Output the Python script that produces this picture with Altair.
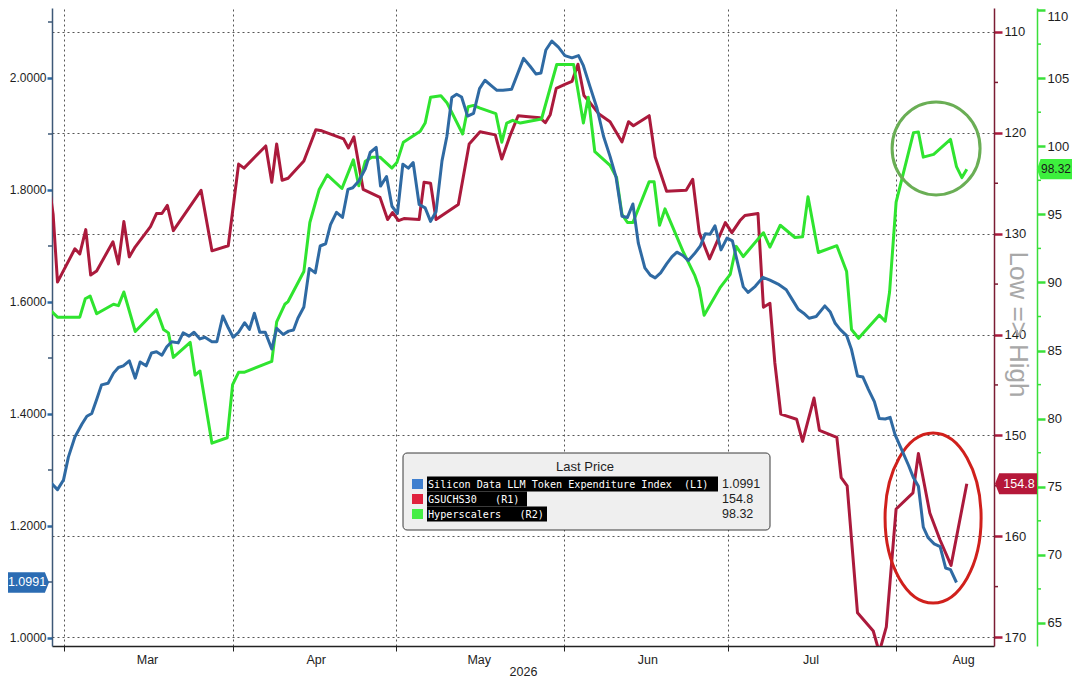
import altair as alt
import pandas as pd

# ---------------- data ----------------
# day offsets are counted from 2026-03-01
blue_day = [-2.6, -1.2, -0.1, 0.8, 2.0, 3.3, 4.2, 5.1, 6.0, 6.9,
            8.1, 9.1, 10.0, 10.9, 12.0, 13.1, 14.0, 15.1, 16.1, 17.0,
            18.0, 18.9, 19.8, 21.0, 21.9, 23.0, 23.9, 25.0, 25.9, 27.2,
            28.1, 29.2, 30.2, 31.1, 32.1, 33.2, 34.1, 35.0, 36.0, 37.0,
            38.2, 39.1, 40.3, 41.3, 42.2, 43.0, 44.1, 45.1, 46.2, 47.1,
            48.1, 49.0, 50.1, 51.2, 52.2, 53.1, 54.2, 55.4, 56.3, 57.4,
            58.2, 59.3, 60.3, 61.3, 62.3, 63.3, 64.2, 65.3, 66.4, 67.4,
            68.4, 69.5, 70.4, 71.3, 72.2, 73.1, 74.2, 75.3, 76.4, 77.4,
            78.5, 79.6, 80.7, 82.3, 84.5, 85.7, 86.8, 87.7, 88.6, 89.7,
            90.9, 92.1, 93.4, 94.6, 95.5, 96.7, 98.0, 99.2, 100.4, 101.5,
            102.6, 103.6, 104.6, 105.6, 106.8, 107.8, 108.7, 109.7, 110.8, 111.8,
            112.7, 113.8, 114.8, 115.9, 117.0, 117.9, 118.8, 119.7, 120.8, 121.9,
            122.9, 123.9, 124.9, 125.8, 127.1, 128.5, 129.8, 131.3, 132.8, 133.8,
            135.0, 136.0, 137.0, 138.3, 139.9, 140.9, 141.8, 142.7, 143.9, 144.8,
            145.9, 146.9, 147.9, 149.0, 149.9, 151.0, 151.9, 152.8, 154.0, 155.3,
            156.2, 157.1, 158.0, 158.9, 160.0, 161.1, 162.1, 163.0, 164.1]
blue_val = [1.279, 1.265, 1.282, 1.323, 1.359, 1.382, 1.396, 1.401, 1.426, 1.452,
            1.455, 1.473, 1.483, 1.486, 1.495, 1.464, 1.493, 1.486, 1.509, 1.511,
            1.505, 1.520, 1.529, 1.527, 1.545, 1.539, 1.546, 1.534, 1.537, 1.529,
            1.529, 1.575, 1.554, 1.537, 1.546, 1.563, 1.551, 1.580, 1.546, 1.546,
            1.516, 1.553, 1.542, 1.548, 1.550, 1.571, 1.591, 1.660, 1.652, 1.700,
            1.704, 1.738, 1.760, 1.751, 1.801, 1.804, 1.816, 1.838, 1.867, 1.876,
            1.807, 1.824, 1.771, 1.758, 1.846, 1.839, 1.849, 1.774, 1.768, 1.744,
            1.761, 1.852, 1.896, 1.965, 1.971, 1.966, 1.932, 1.937, 1.981, 1.996,
            1.987, 1.978, 1.978, 1.980, 2.035, 2.021, 2.007, 2.009, 2.050, 2.066,
            2.055, 2.040, 2.036, 2.040, 2.022, 1.985, 1.946, 1.896, 1.860, 1.823,
            1.753, 1.751, 1.775, 1.705, 1.661, 1.648, 1.643, 1.652, 1.668, 1.681,
            1.689, 1.683, 1.674, 1.686, 1.700, 1.722, 1.721, 1.736, 1.693, 1.714,
            1.709, 1.668, 1.627, 1.617, 1.628, 1.644, 1.639, 1.632, 1.622, 1.606,
            1.587, 1.580, 1.571, 1.574, 1.593, 1.582, 1.562, 1.551, 1.540, 1.515,
            1.468, 1.466, 1.444, 1.422, 1.392, 1.391, 1.394, 1.363, 1.337, 1.308,
            1.286, 1.271, 1.198, 1.179, 1.168, 1.163, 1.125, 1.122, 1.0991]

red_day = [-2.6, -2.0, -1.2, 2.0, 2.9, 4.0, 4.9, 6.0, 9.0, 10.0,
           11.0, 12.0, 13.1, 15.9, 17.0, 18.0, 19.0, 20.1, 25.2, 27.2,
           30.2, 32.1, 33.1, 37.1, 38.2, 39.1, 40.1, 41.2, 44.1, 46.3,
           47.4, 51.4, 52.3, 53.3, 55.0, 58.1, 59.5, 60.4, 61.5, 62.5,
           65.3, 66.2, 67.4, 68.4, 72.5, 74.5, 76.5, 79.3, 80.5, 82.0,
           83.5, 85.4, 87.5, 88.5, 89.4, 90.5, 92.1, 93.4, 94.5, 95.6,
           96.7, 98.3, 100.4, 102.6, 103.8, 104.7, 107.6, 108.7, 110.8, 114.4,
           115.6, 116.8, 118.7, 121.6, 122.8, 124.3, 125.2, 127.6, 128.6, 129.8,
           130.7, 131.8, 134.7, 135.8, 137.9, 138.9, 142.1, 142.9, 144.0, 145.9,
           148.8, 149.9, 151.2, 153.0, 156.1, 157.1, 159.2, 161.1, 163.1, 166.0]
red_val = [125.8, 128.1, 134.8, 131.5, 132.0, 129.6, 134.1, 133.7, 130.8, 133.0,
           128.8, 132.3, 131.3, 129.3, 128.0, 128.0, 127.2, 129.7, 125.7, 131.7,
           131.2, 123.1, 123.5, 121.3, 124.9, 121.1, 124.7, 124.5, 122.8, 119.7,
           119.8, 120.6, 121.5, 120.4, 125.6, 126.4, 128.6, 127.9, 128.7, 128.5,
           128.6, 124.9, 125.0, 128.6, 127.1, 121.1, 119.9, 120.2, 122.6, 120.3,
           118.3, 118.4, 118.5, 119.0, 118.2, 115.6, 115.2, 114.9, 113.2, 116.3,
           117.0, 118.1, 118.9, 120.9, 118.9, 119.3, 118.3, 122.4, 125.8, 125.7,
           124.6, 129.9, 132.5, 128.9, 129.9, 128.7, 128.2, 128.0, 137.3, 136.9,
           142.8, 147.9, 148.4, 150.6, 146.3, 149.5, 150.2, 154.2, 155.0, 167.6,
           169.4, 171.5, 169.0, 157.3, 155.7, 151.8, 157.7, 160.4, 162.9, 154.8]

green_day = [-2.6, -1.2, 2.9, 3.9, 4.8, 6.0, 9.1, 10.0, 11.0, 13.1,
             17.0, 18.3, 19.2, 20.1, 23.2, 24.1, 25.0, 27.2, 30.0, 31.0,
             32.1, 33.1, 38.2, 39.1, 40.6, 41.2, 44.1, 45.2, 46.9, 48.4,
             51.1, 53.2, 54.2, 55.4, 56.6, 58.1, 60.3, 61.2, 62.4, 65.5,
             66.4, 67.4, 69.3, 70.4, 73.3, 74.3, 75.3, 76.5, 79.4, 80.5,
             81.4, 82.5, 83.9, 87.8, 90.6, 93.7, 95.5, 96.4, 97.6, 100.4,
             101.6, 102.6, 103.6, 104.6, 107.6, 108.5, 109.5, 110.5, 113.8, 116.0,
             116.8, 117.7, 120.6, 122.5, 123.6, 124.9, 128.6, 129.8, 131.7, 134.4,
             135.8, 136.8, 138.7, 142.1, 143.9, 144.8, 146.1, 149.9, 151.0, 151.8,
             153.0, 156.2, 157.1, 158.0, 159.9, 163.0, 164.1, 165.1, 166.0]
green_val = [88.0, 87.45, 87.45, 88.8, 89.0, 87.7, 88.4, 88.3, 89.3, 86.4,
             88.0, 86.55, 86.3, 84.5, 85.6, 83.2, 83.5, 78.2, 78.6, 82.5,
             83.4, 83.4, 84.2, 87.1, 88.4, 88.6, 90.8, 94.4, 96.8, 97.9,
             96.9, 99.0, 97.1, 98.9, 99.2, 99.2, 98.4, 98.8, 100.3, 101.1,
             101.7, 103.6, 103.7, 103.2, 100.9, 102.9, 103.0, 102.8, 102.4, 100.3,
             101.7, 101.9, 101.7, 102.0, 106.0, 106.0, 101.7, 103.6, 99.6, 98.6,
             97.7, 95.0, 94.4, 94.4, 97.4, 97.4, 94.2, 95.4, 92.3, 90.5,
             89.6, 87.6, 89.6, 90.6, 92.65, 91.9, 93.65, 92.6, 94.2, 93.3,
             93.35, 96.3, 92.2, 92.7, 90.8, 86.55, 85.9, 87.6, 87.15, 89.3,
             95.9, 101.0, 101.05, 99.2, 99.4, 100.5, 98.5, 97.7, 98.32]

series_names = ["Silicon Data LLM Token Expenditure Index\u00a0 (L1)",
                "GSUCHS30\u00a0\u00a0 (R1)",
                "Hyperscalers\u00a0\u00a0 (R2)"]
last_values = [1.0991, 154.8, 98.32]
last_labels = ["1.0991", "154.8", "98.32"]
month_numbers = [3, 4, 5, 6, 7, 8]
l1_ticks = [1.0, 1.2, 1.4, 1.6, 1.8, 2.0]
l1_minor = [1.1, 1.3, 1.5, 1.7, 1.9, 2.1]
r1_ticks = [110, 120, 130, 140, 150, 160, 170]
r1_minor = [115, 125, 135, 145, 155, 165]
r2_ticks = [65, 70, 75, 80, 85, 90, 95, 100, 105, 110]
r2_minor = [67.5, 72.5, 77.5, 82.5, 87.5, 92.5, 97.5, 102.5, 107.5]
# highlighted areas (day offset, value on own axis)
green_ring = (160.35, 99.84)
red_ring = (159.8, 158.2)

# ---------------- styling ----------------
FONT = "Liberation Sans"
LEGEND_FONT = "DejaVu Sans Mono"
BLUE = "#2f6aa3"
RED = "#ab1a3c"
GREEN = "#2fe42f"
W, H = 942, 638
R2_OFFSET = 43

T0 = pd.Timestamp("2026-03-01")


def to_dates(days):
    return [T0 + pd.Timedelta(days=d) for d in days]


blue_df = pd.DataFrame({"date": to_dates(blue_day), "value": blue_val})
red_df = pd.DataFrame({"date": to_dates(red_day), "value": red_val})
green_df = pd.DataFrame({"date": to_dates(green_day), "value": green_val})

x_scale = alt.Scale(domain=[alt.DateTime(year=2026, month=2, date=26, hours=18, minutes=57),
                            alt.DateTime(year=2026, month=8, date=19)])
x_axis = alt.Axis(values=[alt.DateTime(year=2026, month=m, date=1) for m in month_numbers],
                  format="%b",
                  labelOffset=alt.condition("month(datum.value) == 7", alt.value(67), alt.value(83)),
                  labelFlush=False, labelBound=False,
                  tickSize=5, tickColor="#222", domainColor="#222", domainWidth=1.5,
                  grid=True, gridColor="#555", gridDash=[2, 3], gridWidth=1,
                  labelColor="#222", labelFontSize=12.5, labelPadding=2,
                  title="2026", titleFontSize=12.5, titleFontWeight="normal",
                  titleColor="#222", titlePadding=0)
X = alt.X("date:T", scale=x_scale, axis=x_axis)

Y_L1 = alt.Y("value:Q",
             scale=alt.Scale(domain=[0.9857, 2.125], nice=False, zero=False),
             axis=alt.Axis(orient="left", values=l1_ticks, format=".4f", grid=False, title=None,
                           domainColor="#3d5877", domainWidth=1.5, tickColor=BLUE,
                           tickSize=5, tickWidth=2.5, labelColor="#1e1e1e",
                           labelFontSize=12, labelPadding=1))
Y_R1 = alt.Y("value:Q",
             scale=alt.Scale(domain=[107.62, 170.89], nice=False, zero=False, reverse=True),
             axis=alt.Axis(orient="right", values=r1_ticks, format="d",
                           grid=True, gridColor="#555", gridDash=[2, 3], gridWidth=1,
                           domainColor="#7b1c33", domainWidth=1.5, tickColor=RED,
                           tickSize=8, tickWidth=2.5, labelColor="#1e1e1e",
                           labelFontSize=13, labelPadding=2,
                           title="Low => High", titleColor="#a8a8a8", titleFontSize=26,
                           titleFontWeight="normal", titleAngle=90, titleX=23, titleY=316,
                           titleAlign="center", titleBaseline="middle"))
Y_R2 = alt.Y("value:Q",
             scale=alt.Scale(domain=[63.31, 110.15], nice=False, zero=False),
             axis=alt.Axis(orient="right", offset=R2_OFFSET, values=r2_ticks, format="d",
                           grid=False, title=None, domainColor="#3ae03a", domainWidth=1.5,
                           tickColor="#3ae03a", tickSize=8, tickWidth=2.5, labelFlush=5,
                           labelColor="#1e1e1e", labelFontSize=13, labelPadding=2))


def tag_path(direction, half_h):
    if direction == "right":
        return f"M -1 -{half_h} L 0.8 -{half_h} L 1 0 L 0.8 {half_h} L -1 {half_h} Z"
    return f"M 1 -{half_h} L -0.8 -{half_h} L -1 0 L -0.8 {half_h} L 1 {half_h} Z"


RED_ELLIPSE = "M -0.565 0 A 0.565 1 0 1 0 0.565 0 A 0.565 1 0 1 0 -0.565 0 Z"
GREEN_ELLIPSE = "M -0.946 0 A 0.946 1 0 1 0 0.946 0 A 0.946 1 0 1 0 -0.946 0 Z"


def tag(value, label, Y, shape, width, fill, xc, xt, text_color, fs=12.5):
    df = pd.DataFrame({"value": [value], "label": [label]})
    box = alt.Chart(df).mark_point(shape=shape, size=width ** 2, filled=True, fill=fill,
                                   opacity=1, strokeWidth=0).encode(x=alt.value(xc), y=Y)
    txt = alt.Chart(df).mark_text(font=FONT, fontSize=fs, color=text_color).encode(
        x=alt.value(xt), y=Y, text="label:N")
    return [box, txt]


def minor(ticks, Y, x0, x1, color):
    return alt.Chart(pd.DataFrame({"value": ticks})).mark_rule(
        color=color, strokeWidth=1.5).encode(y=Y, x=alt.value(x0), x2=alt.value(x1))


blue_group = alt.layer(
    alt.Chart(blue_df).mark_line(color=BLUE, strokeWidth=3, clip=True,
                                 strokeJoin="round").encode(x=X, y=Y_L1),
    minor(l1_minor, Y_L1, -4, 0, "#3d5877"),
    *tag(last_values[0], last_labels[0], Y_L1, tag_path("right", 0.5), 41, "#2b6cb3",
         -23.5, -25, "white"),
)

red_ring_df = pd.DataFrame({"date": to_dates([red_ring[0]]), "value": [red_ring[1]]})
red_group = alt.layer(
    alt.Chart(red_df).mark_line(color=RED, strokeWidth=3, clip=True,
                                strokeJoin="round").encode(x=X, y=Y_R1),
    minor(r1_minor, Y_R1, W, W + 4, "#7b1c33"),
    alt.Chart(red_ring_df).mark_point(shape=RED_ELLIPSE, size=170 ** 2, filled=False,
                                      color="#d0201c", strokeWidth=3, opacity=1).encode(x=X, y=Y_R1),
    *tag(last_values[1], last_labels[1], Y_R1, tag_path("left", 0.5), 42, "#b5183a",
         964, 967, "white"),
)

green_ring_df = pd.DataFrame({"date": to_dates([green_ring[0]]), "value": [green_ring[1]]})
green_group = alt.layer(
    alt.Chart(green_df).mark_line(color=GREEN, strokeWidth=3, clip=True,
                                  strokeJoin="round").encode(x=X, y=Y_R2),
    minor(r2_minor, Y_R2, W + R2_OFFSET, W + R2_OFFSET + 4, "#3ae03a"),
    alt.Chart(green_ring_df).mark_point(shape=GREEN_ELLIPSE, size=93 ** 2, filled=False,
                                        color="#6aae55", strokeWidth=3, opacity=1).encode(x=X, y=Y_R2),
    *tag(last_values[2], last_labels[2], Y_R2, tag_path("left", 0.58), 35, "#3df03d",
         1002.5, 1004, "#1a1a1a", fs=12),
)

# ---------------- legend box ----------------
one = pd.DataFrame({"k": [0]})


def rect(x, x2, y, y2, **kw):
    return alt.Chart(one).mark_rect(**kw).encode(
        x=alt.value(x), x2=alt.value(x2), y=alt.value(y), y2=alt.value(y2))


def label(text, x, y, **kw):
    return alt.Chart(one).mark_text(text=text, baseline="middle", **kw).encode(
        x=alt.value(x), y=alt.value(y))


legend_layers = [
    rect(351, 718, 445, 522, fill="#efefef", stroke="#3a3a3a", strokeWidth=1, cornerRadius=4),
    label("Last Price", 533, 459, font=FONT, fontSize=13, color="#1e1e1e", align="center"),
]
square_colors = ["#3f7fcf", "#e0213d", "#45ee45"]
row_y = [476, 491, 506]
black_end = [666, 475, 495]
for i in range(3):
    legend_layers += [
        rect(360, 371, row_y[i] - 5, row_y[i] + 5, fill=square_colors[i]),
        rect(375, black_end[i], row_y[i] - 7.5, row_y[i] + 7.5, fill="#000000"),
        label(series_names[i], 376, row_y[i] + 0.5, font=LEGEND_FONT, fontSize=10.15,
              color="white", align="left"),
        label(last_labels[i], 670, row_y[i], font=FONT, fontSize=12.5, color="#1e1e1e",
              align="left"),
    ]

chart = alt.layer(red_group, green_group, blue_group, *legend_layers).resolve_scale(
    y="independent"
).properties(
    width=W, height=H,
    autosize=alt.AutoSizeParams(type="none"),
    padding={"left": 44, "top": 0, "right": 78, "bottom": 35},
    background="white",
).configure_view(stroke=None).configure_axis(labelFont=FONT, titleFont=FONT)

chart.save("out.html", embed_options={"renderer": "svg", "actions": False})
